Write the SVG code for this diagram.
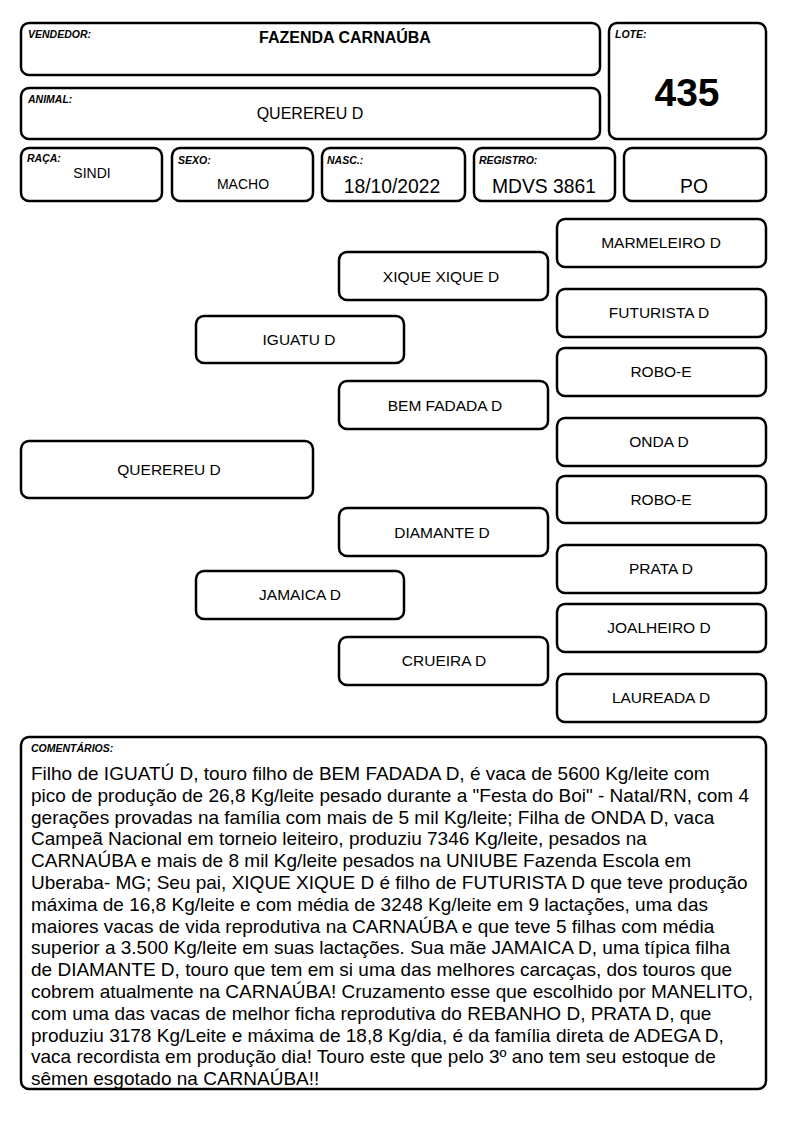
<svg xmlns="http://www.w3.org/2000/svg" width="794" height="1123" viewBox="0 0 794 1123">
<style>
.box{fill:#fff;stroke:#000;stroke-width:2.5}
.lbl{font-family:"Liberation Sans",Arial,sans-serif;font-size:10.5px;font-weight:bold;font-style:italic;fill:#000}
.val{font-family:"Liberation Sans",Arial,sans-serif;font-size:16px;fill:#000;text-anchor:middle}
.sm{font-family:"Liberation Sans",Arial,sans-serif;font-size:14px;fill:#000;text-anchor:middle}
.big{font-family:"Liberation Sans",Arial,sans-serif;font-size:19.3px;fill:#000;text-anchor:middle}
.lot{font-family:"Liberation Sans",Arial,sans-serif;font-size:39px;font-weight:bold;fill:#000;text-anchor:middle}
.nm{font-family:"Liberation Sans",Arial,sans-serif;font-size:15.5px;fill:#000;text-anchor:middle}
.cm{font-family:"Liberation Sans",Arial,sans-serif;font-size:19px;fill:#000}
</style>
<rect width="794" height="1123" fill="#fff"/>
<g id="vendedor">
<rect class="box" x="21" y="23" width="579" height="52" rx="8"/>
<text class="lbl" x="28" y="38">VENDEDOR:</text>
<text class="val" x="345" y="43" style="font-weight:bold">FAZENDA CARNAÚBA</text>
</g>
<g id="lote">
<rect class="box" x="609" y="23" width="157" height="116" rx="8"/>
<text class="lbl" x="615" y="38">LOTE:</text>
<text class="lot" x="687" y="106">435</text>
</g>
<g id="animal">
<rect class="box" x="21" y="88" width="579" height="51" rx="8"/>
<text class="lbl" x="28" y="103">ANIMAL:</text>
<text class="val" x="310" y="119">QUEREREU D</text>
</g>
<g id="raca">
<rect class="box" x="21" y="148" width="141" height="53" rx="8"/>
<text class="lbl" x="27" y="162">RAÇA:</text>
<text class="sm" x="92" y="178">SINDI</text>
</g>
<g id="sexo">
<rect class="box" x="172" y="148" width="141" height="53" rx="8"/>
<text class="lbl" x="178" y="164">SEXO:</text>
<text class="sm" x="243" y="189">MACHO</text>
</g>
<g id="nasc">
<rect class="box" x="322" y="148" width="143" height="53" rx="8"/>
<text class="lbl" x="327" y="164">NASC.:</text>
<text class="big" x="392" y="193">18/10/2022</text>
</g>
<g id="registro">
<rect class="box" x="474" y="148" width="141" height="53" rx="8"/>
<text class="lbl" x="479" y="164">REGISTRO:</text>
<text class="big" x="544" y="193">MDVS 3861</text>
</g>
<g id="po">
<rect class="box" x="624" y="148" width="142" height="53" rx="8"/>
<text class="big" x="694" y="193">PO</text>
</g>

<g id="connectors"></g>

<g id="n-querereu"><rect class="box" x="21" y="441" width="292" height="57" rx="8"/><text class="nm" x="169" y="475">QUEREREU D</text></g>
<g id="n-iguatu"><rect class="box" x="196" y="316" width="208" height="47" rx="8"/><text class="nm" x="299" y="345">IGUATU D</text></g>
<g id="n-jamaica"><rect class="box" x="196" y="571" width="208" height="48" rx="8"/><text class="nm" x="300" y="600">JAMAICA D</text></g>
<g id="n-xique"><rect class="box" x="339" y="252" width="209" height="48" rx="8"/><text class="nm" x="441" y="282">XIQUE XIQUE D</text></g>
<g id="n-bemfadada"><rect class="box" x="339" y="381" width="209" height="48" rx="8"/><text class="nm" x="445" y="411">BEM FADADA D</text></g>
<g id="n-diamante"><rect class="box" x="339" y="508" width="209" height="48" rx="8"/><text class="nm" x="442" y="538">DIAMANTE D</text></g>
<g id="n-crueira"><rect class="box" x="339" y="637" width="209" height="48" rx="8"/><text class="nm" x="444" y="666">CRUEIRA D</text></g>
<g id="n-marmeleiro"><rect class="box" x="557" y="219" width="209" height="48" rx="8"/><text class="nm" x="661" y="248">MARMELEIRO D</text></g>
<g id="n-futurista"><rect class="box" x="557" y="289" width="209" height="48" rx="8"/><text class="nm" x="659" y="318">FUTURISTA D</text></g>
<g id="n-robo1"><rect class="box" x="557" y="348" width="209" height="48" rx="8"/><text class="nm" x="661" y="377">ROBO-E</text></g>
<g id="n-onda"><rect class="box" x="557" y="418" width="209" height="48" rx="8"/><text class="nm" x="659" y="447">ONDA D</text></g>
<g id="n-robo2"><rect class="box" x="557" y="476" width="209" height="47" rx="8"/><text class="nm" x="661" y="505">ROBO-E</text></g>
<g id="n-prata"><rect class="box" x="557" y="545" width="209" height="48" rx="8"/><text class="nm" x="661" y="574">PRATA D</text></g>
<g id="n-joalheiro"><rect class="box" x="557" y="604" width="209" height="48" rx="8"/><text class="nm" x="659" y="633">JOALHEIRO D</text></g>
<g id="n-laureada"><rect class="box" x="557" y="674" width="209" height="48" rx="8"/><text class="nm" x="661" y="703">LAUREADA D</text></g>

<g id="comentarios">
<rect x="21" y="737" width="745" height="352" rx="8" fill="#fff"/>
<text class="lbl" x="31" y="752">COMENTÁRIOS:</text>
<text class="cm" x="31" y="780">Filho de IGUATÚ D, touro filho de BEM FADADA D, é vaca de 5600 Kg/leite com</text>
<text class="cm" x="31" y="801.8">pico de produção de 26,8 Kg/leite pesado durante a "Festa do Boi" - Natal/RN, com 4</text>
<text class="cm" x="31" y="823.6">gerações provadas na família com mais de 5 mil Kg/leite; Filha de ONDA D, vaca</text>
<text class="cm" x="31" y="845.4">Campeã Nacional em torneio leiteiro, produziu 7346 Kg/leite, pesados na</text>
<text class="cm" x="31" y="867.2">CARNAÚBA e mais de 8 mil Kg/leite pesados na UNIUBE Fazenda Escola em</text>
<text class="cm" x="31" y="889">Uberaba- MG; Seu pai, XIQUE XIQUE D é filho de FUTURISTA D que teve produção</text>
<text class="cm" x="31" y="910.8">máxima de 16,8 Kg/leite e com média de 3248 Kg/leite em 9 lactações, uma das</text>
<text class="cm" x="31" y="932.6">maiores vacas de vida reprodutiva na CARNAÚBA e que teve 5 filhas com média</text>
<text class="cm" x="31" y="954.4">superior a 3.500 Kg/leite em suas lactações. Sua mãe JAMAICA D, uma típica filha</text>
<text class="cm" x="31" y="976.2">de DIAMANTE D, touro que tem em si uma das melhores carcaças, dos touros que</text>
<text class="cm" x="31" y="998">cobrem atualmente na CARNAÚBA! Cruzamento esse que escolhido por MANELITO,</text>
<text class="cm" x="31" y="1019.8">com uma das vacas de melhor ficha reprodutiva do REBANHO D, PRATA D, que</text>
<text class="cm" x="31" y="1041.6">produziu 3178 Kg/Leite e máxima de 18,8 Kg/dia, é da família direta de ADEGA D,</text>
<text class="cm" x="31" y="1063.4">vaca recordista em produção dia! Touro este que pelo 3º ano tem seu estoque de</text>
<text class="cm" x="31" y="1085.2">sêmen esgotado na CARNAÚBA!!</text>
<rect x="21" y="737" width="745" height="352" rx="8" fill="none" stroke="#000" stroke-width="2.5"/>
</g>
</svg>
